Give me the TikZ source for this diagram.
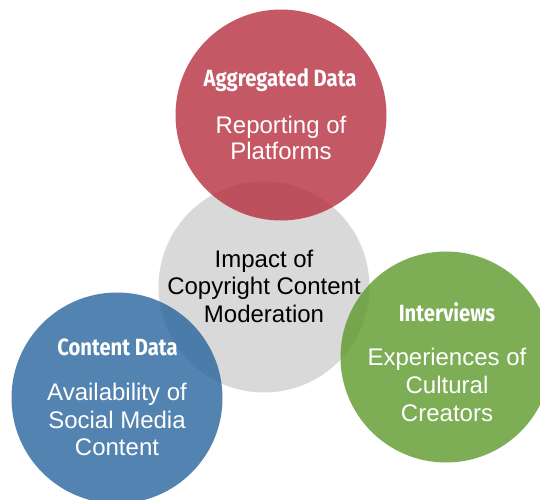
\documentclass[tikz,border=0pt]{standalone}
\usepackage{fontspec}
\setmainfont{Liberation Sans}
\newfontfamily\headfont[FakeStretch=0.86]{Fira Sans}
\definecolor{cgray}{RGB}{217,217,217}
\definecolor{cred}{RGB}{183,46,62}
\definecolor{cblue}{RGB}{40,100,156}
\definecolor{cgreen}{RGB}{92,152,42}
\begin{document}
\begin{tikzpicture}[x=1pt,y=1pt,
  disc/.style={circle,inner sep=0pt,minimum size=211pt,draw=none},
  tint/.style={fill opacity=0.8},
  head/.style={anchor=base,text=white,inner sep=0pt,font=\headfont\bfseries\fontsize{23.5}{27}\selectfont},
  body/.style={anchor=base,inner sep=0pt,font=\fontsize{24}{28}\selectfont},
  bodyw/.style={body,text=white}]
\useasboundingbox (0,0) rectangle (540,499);
\clip (0,0) rectangle (540,499);
\node[disc,fill=cgray] (core) at (264,212) {};
\node[disc,fill=cred,tint] (agg) at (281,384) {};
\node[disc,fill=cblue,tint] (cont) at (117,101) {};
\node[disc,fill=cgreen,tint] (intv) at (446,142) {};
% red
\node[head] (aggh) at (280,412) {Aggregated Data};
\node[bodyw] (agg1) at (281,366) {Reporting of};
\node[bodyw] (agg2) at (281,340) {Platforms};
% gray
\node[body] (core1) at (264,232) {Impact of};
\node[body] (core2) at (264,205) {Copyright Content};
\node[body] (core3) at (264,177) {Moderation};
% blue
\node[head] (conth) at (117.5,144) {Content Data};
\node[bodyw] (cont1) at (117,99) {Availability of};
\node[bodyw] (cont2) at (117,71) {Social Media};
\node[bodyw] (cont3) at (117,44) {Content};
% green
\node[head] (intvh) at (447,178) {Interviews};
\node[bodyw] (intv1) at (447,134) {Experiences of};
\node[bodyw] (intv2) at (447,106) {Cultural};
\node[bodyw] (intv3) at (447,78) {Creators};
\end{tikzpicture}
\end{document}
